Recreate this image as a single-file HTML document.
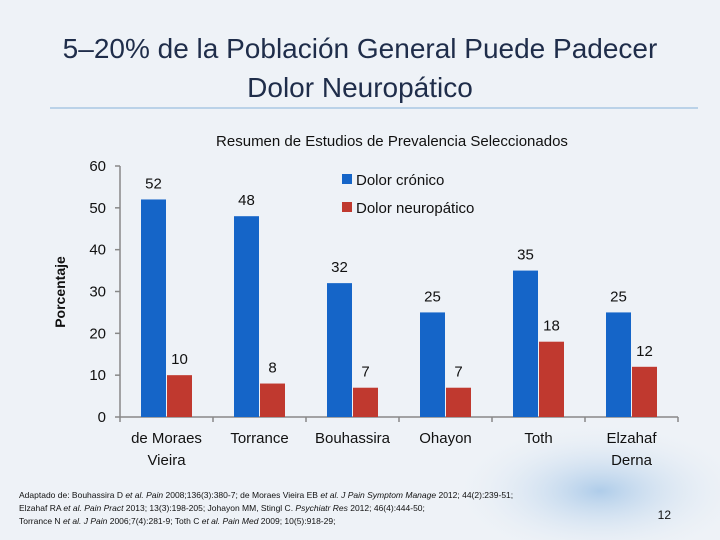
<!DOCTYPE html>
<html><head><meta charset="utf-8"><style>
html,body{margin:0;width:720px;height:540px;overflow:hidden;background:#eef2f7;font-family:"Liberation Sans",sans-serif;}
svg{display:block;}
</style></head><body>
<svg width="720" height="540" xmlns="http://www.w3.org/2000/svg">
<defs>
<radialGradient id="blob" cx="0.6" cy="0.65" r="0.5">
<stop offset="0" stop-color="#9fc3e6" stop-opacity="0.8"/>
<stop offset="1" stop-color="#eef2f7" stop-opacity="0"/>
</radialGradient>
</defs>
<rect x="420" y="400" width="300" height="140" fill="url(#blob)"/>
<text x="360" y="58" text-anchor="middle" font-size="28" fill="#1f2d4a">5–20% de la Población General Puede Padecer</text>
<text x="360" y="97" text-anchor="middle" font-size="28" fill="#1f2d4a">Dolor Neuropático</text>
<line x1="50" y1="108" x2="698" y2="108" stroke="#a9c8e4" stroke-width="1.5"/>
<text x="392" y="146" text-anchor="middle" font-size="15" fill="#111">Resumen de Estudios de Prevalencia Seleccionados</text>
<text transform="translate(65,292) rotate(-90)" text-anchor="middle" font-size="14" font-weight="bold" fill="#111">Porcentaje</text>
<g id="chart"></g>
<rect x="342" y="174" width="10" height="10" fill="#1565c8"/>
<text x="356" y="185" font-size="15" fill="#111">Dolor crónico</text>
<rect x="342" y="202" width="10" height="10" fill="#c0392f"/>
<text x="356" y="213" font-size="15" fill="#111">Dolor neuropático</text>
<g font-size="8.5" fill="#111">
<text x="19" y="498">Adaptado de: Bouhassira D <tspan font-style="italic">et al. Pain</tspan> 2008;136(3):380-7; de Moraes Vieira EB <tspan font-style="italic">et al. J Pain Symptom Manage</tspan> 2012; 44(2):239-51;</text>
<text x="19" y="511">Elzahaf RA <tspan font-style="italic">et al. Pain Pract</tspan> 2013; 13(3):198-205; Johayon MM, Stingl C. <tspan font-style="italic">Psychiatr Res</tspan> 2012; 46(4):444-50;</text>
<text x="19" y="524">Torrance N <tspan font-style="italic">et al. J Pain</tspan> 2006;7(4):281-9; Toth C <tspan font-style="italic">et al. Pain Med</tspan> 2009; 10(5):918-29;</text>
</g>
<text x="671" y="519" text-anchor="end" font-size="12" fill="#111">12</text>
</svg>
<script>
const categories=[["de Moraes","Vieira"],["Torrance"],["Bouhassira"],["Ohayon"],["Toth"],["Elzahaf","Derna"]];
const chronic=[52,48,32,25,35,25];
const neuropathic=[10,8,7,7,18,12];
const yTicks=[0,10,20,30,40,50,60];
const NS="http://www.w3.org/2000/svg";
const g=document.getElementById('chart');
const x0=120,step=93,y0=417,yMax=60,yTop=166;
const y=v=>y0-(v/yMax)*(y0-yTop);
const cx=i=>x0+i*step;
function mk(t,a){const e=document.createElementNS(NS,t);for(const k in a)e.setAttribute(k,a[k]);g.appendChild(e);return e;}
let ax=mk('line',{x1:x0,y1:yTop,x2:x0,y2:y0,stroke:'#888','stroke-width':1.5});


let bx=mk('line',{x1:x0,y1:y0,x2:cx(categories.length),y2:y0,stroke:'#888','stroke-width':1.5});


yTicks.forEach(v=>{
 let t=mk('line',{x1:x0-5,y1:y(v),x2:x0,y2:y(v),stroke:'#888','stroke-width':1.5});
 
 
 let l=mk('text',{x:x0-14,y:y(v)+5,'text-anchor':'end','font-size':15,fill:'#111'});
 l.textContent=v;
 
 
});
for(let i=0;i<=categories.length;i++){
 let t=mk('line',{x1:cx(i),y1:y0,x2:cx(i),y2:y0+5,stroke:'#888','stroke-width':1.5});
 
 
}
categories.forEach((c,i)=>{
 const bw=25,bxp=cx(i)+21;
 [[chronic[i],bxp,'#1565c8','bar-chronic'],[neuropathic[i],bxp+26,'#c0392f','bar-neuropathic']].forEach(([v,xx,col,nm])=>{
  let r=mk('rect',{x:xx,y:y(v),width:bw,height:y0-y(v),fill:col});
  
  
  let l=mk('text',{x:xx+bw/2,y:y(v)-11,'text-anchor':'middle','font-size':15,fill:'#111'});
  l.textContent=v;
  
  
 });
 c.forEach((line,j)=>{
  let l=mk('text',{x:cx(i)+step/2,y:443+j*22,'text-anchor':'middle','font-size':15,fill:'#111'});
  l.textContent=line;
  
  
 });
});
</script>
</body></html>
